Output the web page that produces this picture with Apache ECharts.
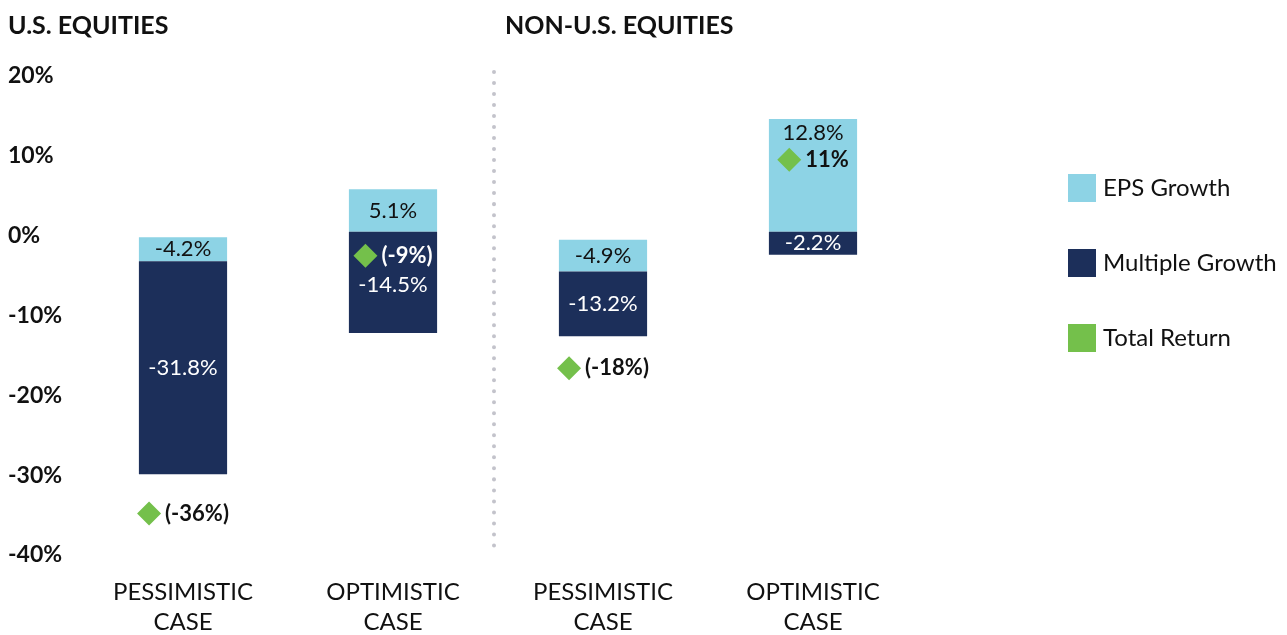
<!DOCTYPE html>
<html>
<head>
<meta charset="utf-8">
<script src="https://cdn.jsdelivr.net/npm/echarts@6/dist/echarts.min.js"></script>
<style>
  html, body { margin: 0; padding: 0; background: #fff; }
  #chart { width: 1287px; height: 635px; }
</style>
</head>
<body>
<div id="chart"></div>
<script>
// categories and values (bar ends in %)
const categories = ['PESSIMISTIC\nCASE', 'OPTIMISTIC\nCASE', 'PESSIMISTIC\nCASE', 'OPTIMISTIC\nCASE'];
const epsStart = [-0.2, 0.5, -0.5, 0.5];
const epsEnd = [-3.2, 5.8, -4.5, 14.6];
const multipleStart = [-3.2, 0.5, -4.5, 0.5];
const multipleEnd = [-29.9, -12.2, -12.6, -2.4];
const totalReturn = [-34.8, -2.5, -16.6, 9.5];
const epsLabels = ['-4.2%', '5.1%', '-4.9%', '12.8%'];
const multipleLabels = ['-31.8%', '-14.5%', '-13.2%', '-2.2%'];
const totalLabels = ['(-36%)', '(-9%)', '(-18%)', '11%'];
const yMin = -40, yMax = 20, yStep = 10;

const FONT = 'Lato, "Noto Sans", sans-serif';
const EPS_COLOR = '#8dd3e5';
const MULT_COLOR = '#1c2f5a';
const TOTAL_COLOR = '#74c04b';

const measureCtx = document.createElement('canvas').getContext('2d');
function textWidth(txt, font) {
    measureCtx.font = font;
    return measureCtx.measureText(txt).width;
}

function segmentRender(labels, fill, textColor) {
    return function (params, api) {
        const i = params.dataIndex;
        const x = api.coord([i, 0])[0];
        const w = api.size([1, 0])[0] * 0.42;
        const ya = api.coord([i, api.value(1)])[1];
        const yb = api.coord([i, api.value(2)])[1];
        const top = Math.min(ya, yb), bottom = Math.max(ya, yb);
        let ly = (top + bottom) / 2;
        // if the total marker sits inside this segment, push the label toward the outer end
        const yt = api.coord([i, totalReturn[i]])[1];
        if (yt > top && yt < bottom) {
            const outerUp = Math.abs(api.value(2)) > Math.abs(api.value(1)) && api.value(2) > 0;
            ly = outerUp ? yt - 27 : yt + 29;
        }
        return {
            type: 'group',
            children: [{
                type: 'rect',
                shape: { x: x - w / 2, y: top, width: w, height: bottom - top },
                style: { fill: fill }
            }, {
                type: 'text',
                x: x, y: ly,
                style: {
                    text: labels[i], fill: textColor, font: '22px ' + FONT,
                    align: 'center', verticalAlign: 'middle'
                }
            }]
        };
    };
}

function totalRender(params, api) {
    const i = params.dataIndex;
    const x = api.coord([i, 0])[0];
    const y = api.coord([i, api.value(1)])[1];
    const font = 'bold 22px ' + FONT;
    const tw = textWidth(totalLabels[i], font);
    const d = 24, gap = 4;
    const left = x - (d + gap + tw) / 2;
    const cx = left + d / 2;
    const v = api.value(1);
    const inside = v < Math.max(multipleStart[i], multipleEnd[i]) && v > Math.min(multipleStart[i], multipleEnd[i]);
    return {
        type: 'group',
        children: [{
            type: 'polygon',
            shape: { points: [[cx, y - d / 2], [cx + d / 2, y], [cx, y + d / 2], [cx - d / 2, y]] },
            style: { fill: TOTAL_COLOR }
        }, {
            type: 'text',
            x: left + d + gap, y: y,
            style: {
                text: totalLabels[i], fill: inside ? '#fff' : '#111', font: font,
                align: 'left', verticalAlign: 'middle'
            }
        }]
    };
}

const chart = echarts.init(document.getElementById('chart'));
chart.setOption({
    animation: false,
    title: [{
        text: 'U.S. EQUITIES', left: 3, top: 8,
        textStyle: { fontFamily: FONT, fontWeight: 'bold', fontSize: 25, color: '#111' }
    }, {
        text: 'NON-U.S. EQUITIES', left: 500, top: 8,
        textStyle: { fontFamily: FONT, fontWeight: 'bold', fontSize: 25, color: '#111' }
    }],
    legend: {
        orient: 'vertical',
        left: 1063,
        top: 169,
        itemWidth: 28,
        itemHeight: 28,
        itemGap: 47,
        icon: 'rect',
        textStyle: { fontFamily: FONT, fontSize: 24, color: '#111', padding: [0, 0, 0, 2] },
        data: ['EPS Growth', 'Multiple Growth', 'Total Return']
    },
    grid: { left: 78, right: 369, top: 76, bottom: 80, outerBoundsMode: 'none' },
    xAxis: {
        type: 'category',
        data: categories,
        axisLine: { show: false },
        axisTick: { show: false },
        axisLabel: {
            margin: 22,
            fontFamily: FONT, fontSize: 24, lineHeight: 30, color: '#111'
        }
    },
    yAxis: {
        type: 'value',
        min: yMin, max: yMax, interval: yStep,
        axisLine: { show: false },
        axisTick: { show: false },
        splitLine: { show: false },
        axisLabel: {
            formatter: '{value}%', align: 'left', margin: 70,
            fontFamily: FONT, fontWeight: 'bold', fontSize: 23, color: '#111'
        }
    },
    graphic: [{
        type: 'line',
        shape: { x1: 494, y1: 72, x2: 494, y2: 552 },
        style: { stroke: '#c3c3cb', lineWidth: 4, lineDash: [0.01, 11], lineCap: 'round' }
    }],
    series: [{
        name: 'EPS Growth',
        type: 'custom',
        itemStyle: { color: EPS_COLOR },
        encode: { x: 0, y: [1, 2] },
        renderItem: segmentRender(epsLabels, EPS_COLOR, '#111'),
        data: epsStart.map((s, i) => [i, s, epsEnd[i]])
    }, {
        name: 'Multiple Growth',
        type: 'custom',
        itemStyle: { color: MULT_COLOR },
        encode: { x: 0, y: [1, 2] },
        renderItem: segmentRender(multipleLabels, MULT_COLOR, '#fff'),
        data: multipleStart.map((s, i) => [i, s, multipleEnd[i]])
    }, {
        name: 'Total Return',
        type: 'custom',
        itemStyle: { color: TOTAL_COLOR },
        encode: { x: 0, y: 1 },
        renderItem: totalRender,
        data: totalReturn.map((v, i) => [i, v]),
        z: 5
    }]
});
</script>
</body>
</html>
